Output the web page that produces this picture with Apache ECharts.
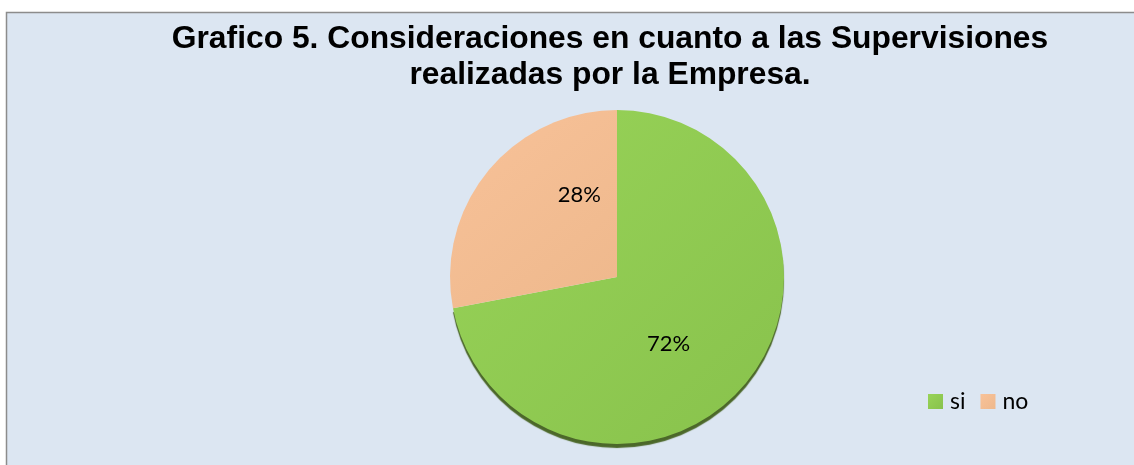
<!DOCTYPE html>
<html>
<head>
<meta charset="utf-8">
<script src="https://cdn.jsdelivr.net/npm/echarts@6/dist/echarts.min.js"></script>
<style>
html,body{margin:0;padding:0;background:#ffffff;}
#chart{width:1134px;height:465px;}
</style>
</head>
<body>
<div id="chart"></div>
<script>
const titleLines = ['Grafico 5. Consideraciones en cuanto a las Supervisiones', 'realizadas por la Empresa.'];
const categories = ['si', 'no'];
const values = [72, 28];
const colors = [
  ['#98d358', '#88c24c'],
  ['#f8c299', '#eeb88c']
];
const labelOffsets = [[-15, 12], [29, -27]];

const chart = echarts.init(document.getElementById('chart'));
const data = categories.map((c, i) => ({
  name: c,
  value: values[i],
  itemStyle: {
    color: new echarts.graphic.LinearGradient(0, 0, 1, 1, [
      {offset: 0, color: colors[i][0]},
      {offset: 1, color: colors[i][1]}
    ]),
    shadowColor: i === 0 ? 'rgba(60,90,20,0.9)' : 'rgba(0,0,0,0)',
    shadowOffsetY: i === 0 ? 4 : 0,
    shadowBlur: i === 0 ? 1 : 0
  },
  label: {offset: labelOffsets[i]}
}));

chart.setOption({
  animation: false,
  graphic: [{
    type: 'rect',
    z: -10,
    shape: {x: 6.5, y: 12.5, width: 1140, height: 470},
    style: {fill: '#dce6f2', stroke: '#8c8c8c', lineWidth: 1.5}
  }],
  title: {
    text: titleLines.join('\n'),
    left: 605,
    top: 16,
    textAlign: 'center',
    textStyle: {
      fontFamily: 'Liberation Sans, Arial, sans-serif',
      fontWeight: 'bold',
      fontSize: 31.8,
      lineHeight: 36,
      color: '#000000'
    }
  },
  legend: {
    data: categories,
    orient: 'horizontal',
    left: 928,
    top: 390,
    padding: 0,
    itemWidth: 15,
    itemHeight: 15,
    itemGap: 15,
    icon: 'rect',
    textStyle: {
      fontFamily: 'Lato, Open Sans, sans-serif',
      fontSize: 23,
      color: '#000000',
      padding: [0, 0, 0, 2]
    }
  },
  series: [{
    type: 'pie',
    center: [617, 277],
    radius: 167,
    startAngle: 90,
    clockwise: true,
    data: data,
    color: ['#92d050', '#f6bf94'],
    itemStyle: {borderWidth: 0},
    label: {
      show: true,
      position: 'inside',
      formatter: p => Math.round(p.percent) + '%',
      fontFamily: 'Lato, Open Sans, sans-serif',
      fontSize: 22,
      color: '#000000'
    },
    labelLine: {show: false},
    emphasis: {disabled: true}
  }]
});
</script>
</body>
</html>
